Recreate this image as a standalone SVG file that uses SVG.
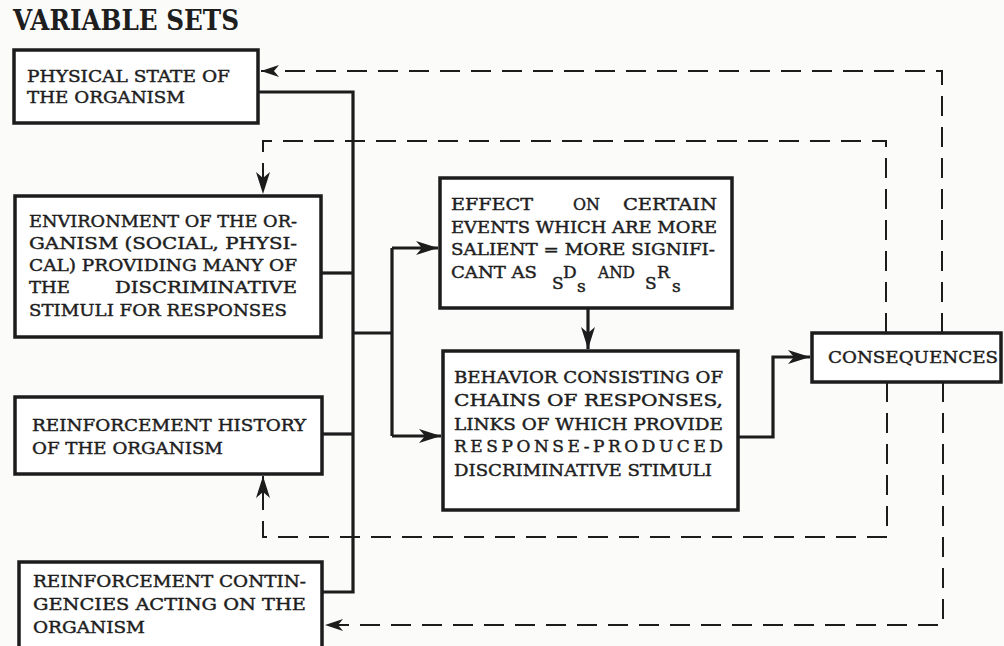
<svg xmlns="http://www.w3.org/2000/svg" width="1004" height="646" viewBox="0 0 1004 646">
<defs>
<style>
.box{fill:#fff;stroke:#1c1c1c;stroke-width:3.5}
.t{font-family:"DejaVu Serif","Liberation Serif",serif;font-size:17px;fill:#1e1e1e;stroke:#1e1e1e;stroke-width:0.45}
.title{font-family:"DejaVu Serif","Liberation Serif",serif;font-size:27px;font-weight:bold;fill:#1e1e1e}
.solid{fill:none;stroke:#1c1c1c;stroke-width:3.2}
.dash{fill:none;stroke:#1c1c1c;stroke-width:2;stroke-dasharray:20 11}
</style>
<marker id="ah" markerUnits="userSpaceOnUse" markerWidth="24" markerHeight="14" refX="22" refY="7" orient="auto"><path d="M0,0 L22,7 L0,14 L6,7 Z" fill="#1c1c1c"/></marker>
<marker id="ahd" markerUnits="userSpaceOnUse" markerWidth="20" markerHeight="12" refX="18" refY="6" orient="auto"><path d="M0,0 L18,6 L0,12 L5,6 Z" fill="#1c1c1c"/></marker>
</defs>
<rect width="1004" height="646" fill="#fbfbfa"/>
<text class="title" x="13" y="30" textLength="226" lengthAdjust="spacingAndGlyphs">VARIABLE SETS</text>

<g id="connectors">
<path class="dash" d="M942,333 V71 H261" marker-end="url(#ahd)"/>
<path class="dash" d="M943,382 V625 H325" marker-end="url(#ahd)"/>
<path class="dash" d="M886,333 V141 H263 V194" marker-end="url(#ah)"/>
<path class="dash" d="M887,382 V537 H263 V476" marker-end="url(#ah)"/>
<path class="solid" d="M258,92 H353 V592 H322"/>
<path class="solid" d="M321,273 H353"/>
<path class="solid" d="M322,434 H353"/>
<path class="solid" d="M353,333 H392"/>
<path class="solid" d="M392,248 V436"/>
<path class="solid" d="M392,248 H438" marker-end="url(#ah)"/>
<path class="solid" d="M392,436 H441" marker-end="url(#ah)"/>
<path class="solid" d="M588,308 V349" marker-end="url(#ah)"/>
<path class="solid" d="M738,437 H773 V357 H810" marker-end="url(#ah)"/>
</g>

<g id="physical-state">
<rect class="box" x="14" y="50" width="244" height="73"/>
<text class="t" x="27" y="82" textLength="203" lengthAdjust="spacingAndGlyphs">PHYSICAL STATE OF</text>
<text class="t" x="27" y="103" textLength="158" lengthAdjust="spacingAndGlyphs">THE ORGANISM</text>
</g>

<g id="environment">
<rect class="box" x="15" y="196" width="306" height="141"/>
<text class="t" x="29" y="227" textLength="268" lengthAdjust="spacingAndGlyphs">ENVIRONMENT OF THE OR-</text>
<text class="t" x="29" y="249" textLength="268" lengthAdjust="spacingAndGlyphs">GANISM (SOCIAL, PHYSI-</text>
<text class="t" x="29" y="271" textLength="268" lengthAdjust="spacingAndGlyphs">CAL) PROVIDING MANY OF</text>
<text class="t" x="29" y="293" textLength="41" lengthAdjust="spacingAndGlyphs">THE</text>
<text class="t" x="115" y="293" textLength="182" lengthAdjust="spacingAndGlyphs">DISCRIMINATIVE</text>
<text class="t" x="29" y="316" textLength="258" lengthAdjust="spacingAndGlyphs">STIMULI FOR RESPONSES</text>
</g>

<g id="reinforcement-history">
<rect class="box" x="15" y="397" width="307" height="77"/>
<text class="t" x="32" y="431" textLength="274" lengthAdjust="spacingAndGlyphs">REINFORCEMENT HISTORY</text>
<text class="t" x="32" y="454" textLength="191" lengthAdjust="spacingAndGlyphs">OF THE ORGANISM</text>
</g>

<g id="reinforcement-contingencies">
<rect class="box" x="19" y="562" width="303" height="100"/>
<text class="t" x="33" y="587" textLength="273" lengthAdjust="spacingAndGlyphs">REINFORCEMENT CONTIN-</text>
<text class="t" x="33" y="610" textLength="273" lengthAdjust="spacingAndGlyphs">GENCIES ACTING ON THE</text>
<text class="t" x="33" y="633" textLength="112" lengthAdjust="spacingAndGlyphs">ORGANISM</text>
</g>

<g id="effect">
<rect class="box" x="440" y="178" width="292" height="130"/>
<text class="t" x="451" y="210" textLength="82" lengthAdjust="spacingAndGlyphs">EFFECT</text>
<text class="t" x="573" y="210" textLength="27" lengthAdjust="spacingAndGlyphs">ON</text>
<text class="t" x="623" y="210" textLength="94" lengthAdjust="spacingAndGlyphs">CERTAIN</text>
<text class="t" x="451" y="233" textLength="266" lengthAdjust="spacingAndGlyphs">EVENTS WHICH ARE MORE</text>
<text class="t" x="451" y="255" textLength="264" lengthAdjust="spacingAndGlyphs">SALIENT = MORE SIGNIFI-</text>
<text class="t" x="451" y="278" textLength="86" lengthAdjust="spacingAndGlyphs">CANT AS</text>
<text class="t" x="552" y="289" font-size="16">S</text>
<text class="t" x="563" y="278" font-size="16">D</text>
<text class="t" x="577" y="292" font-size="13">s</text>
<text class="t" x="598" y="278" textLength="37" lengthAdjust="spacingAndGlyphs">AND</text>
<text class="t" x="645" y="289" font-size="16">S</text>
<text class="t" x="657" y="278" font-size="16">R</text>
<text class="t" x="672" y="292" font-size="13">s</text>
</g>

<g id="behavior">
<rect class="box" x="443" y="351" width="295" height="159"/>
<text class="t" x="454" y="383" textLength="269" lengthAdjust="spacingAndGlyphs">BEHAVIOR CONSISTING OF</text>
<text class="t" x="454" y="406" textLength="269" lengthAdjust="spacingAndGlyphs">CHAINS OF RESPONSES,</text>
<text class="t" x="454" y="430" textLength="269" lengthAdjust="spacingAndGlyphs">LINKS OF WHICH PROVIDE</text>
<text class="t" x="454" y="452" textLength="269" lengthAdjust="spacing">RESPONSE-PRODUCED</text>
<text class="t" x="454" y="476" textLength="258" lengthAdjust="spacingAndGlyphs">DISCRIMINATIVE STIMULI</text>
</g>

<g id="consequences">
<rect class="box" x="812" y="333" width="189" height="49"/>
<text class="t" x="828" y="363" textLength="170" lengthAdjust="spacingAndGlyphs">CONSEQUENCES</text>
</g>
</svg>
